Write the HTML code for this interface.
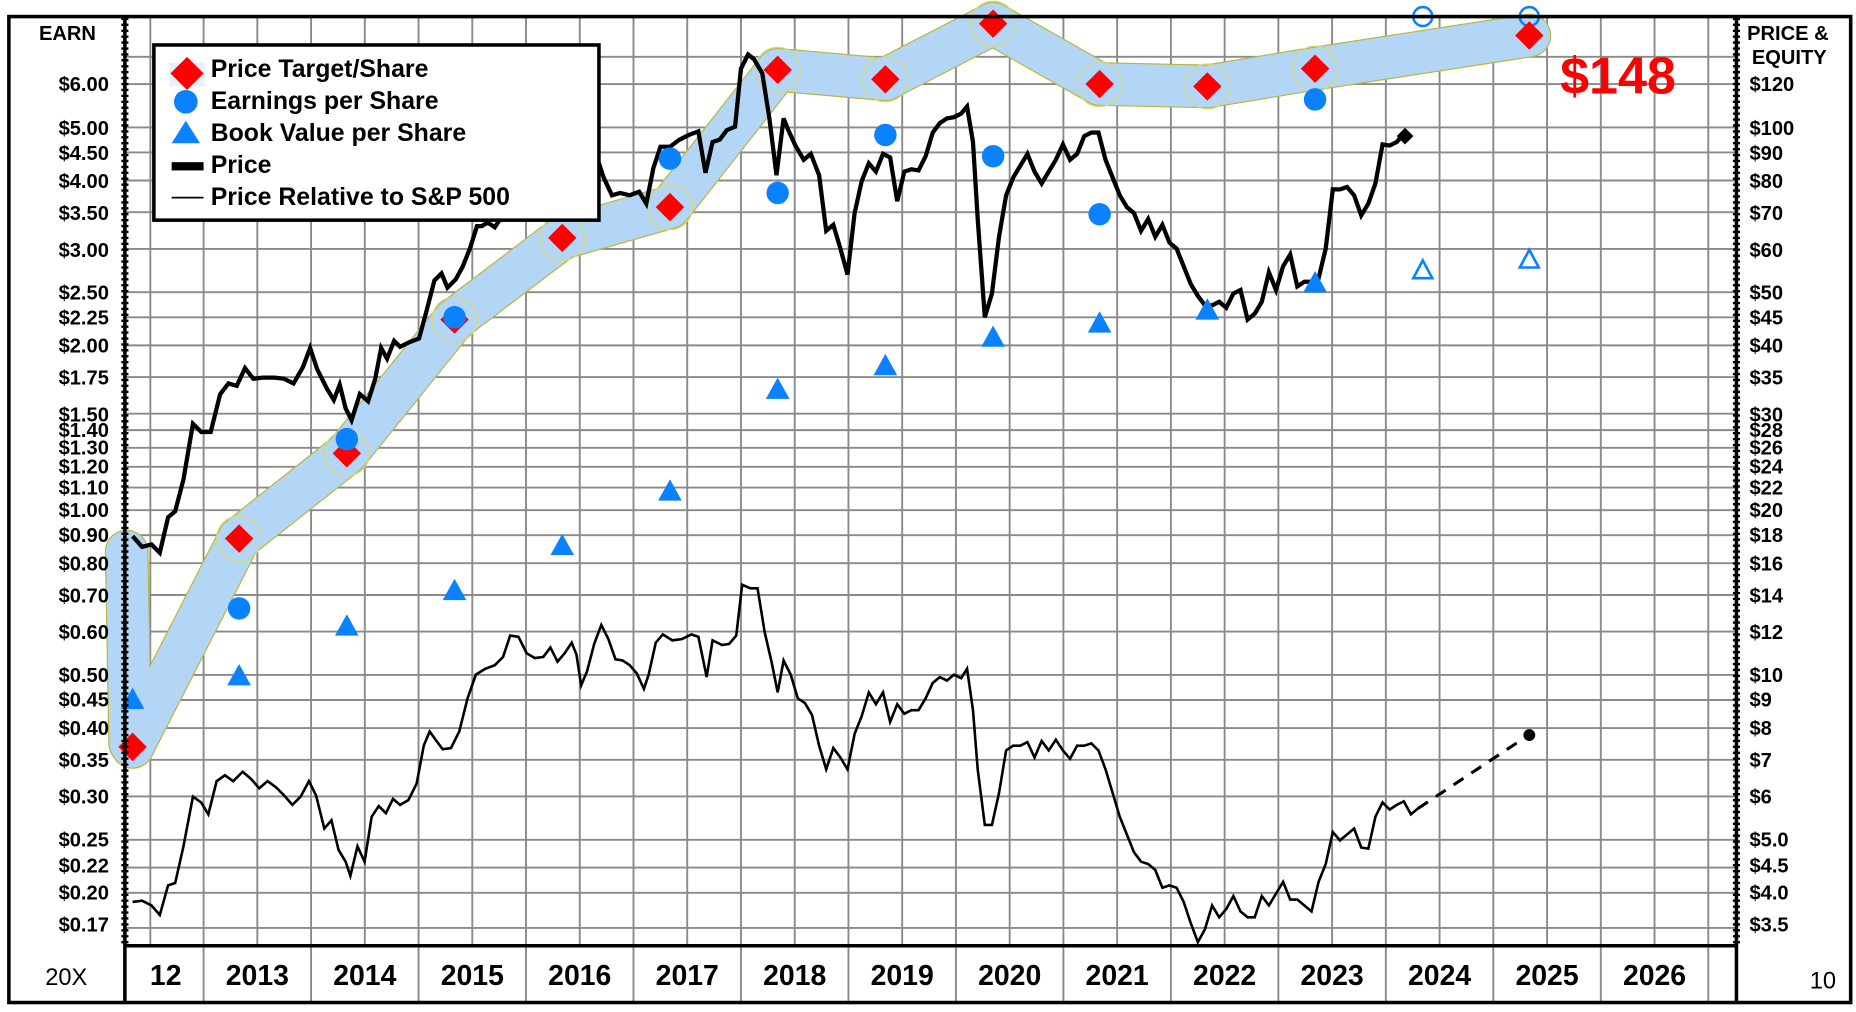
<!DOCTYPE html>
<html><head><meta charset="utf-8"><style>
html,body{margin:0;padding:0;background:#fff;}
svg{display:block;}
text{font-family:"Liberation Sans",Arial,sans-serif;}
</style></head><body>
<svg width="1856" height="1012" viewBox="0 0 1568 855" preserveAspectRatio="none" xmlns="http://www.w3.org/2000/svg">
<rect x="0" y="0" width="1568" height="855" fill="#fff"/>
<g stroke="#8a8a8a" stroke-width="1.6">
<line x1="105" x2="1467" y1="48" y2="48"/>
<line x1="105" x2="1467" y1="71" y2="71"/>
<line x1="105" x2="1467" y1="107.7" y2="107.7"/>
<line x1="105" x2="1467" y1="128.8" y2="128.8"/>
<line x1="105" x2="1467" y1="152.5" y2="152.5"/>
<line x1="105" x2="1467" y1="179.3" y2="179.3"/>
<line x1="105" x2="1467" y1="210.3" y2="210.3"/>
<line x1="105" x2="1467" y1="246.9" y2="246.9"/>
<line x1="105" x2="1467" y1="268.1" y2="268.1"/>
<line x1="105" x2="1467" y1="291.8" y2="291.8"/>
<line x1="105" x2="1467" y1="318.6" y2="318.6"/>
<line x1="105" x2="1467" y1="349.5" y2="349.5"/>
<line x1="105" x2="1467" y1="363.4" y2="363.4"/>
<line x1="105" x2="1467" y1="378.3" y2="378.3"/>
<line x1="105" x2="1467" y1="394.4" y2="394.4"/>
<line x1="105" x2="1467" y1="411.9" y2="411.9"/>
<line x1="105" x2="1467" y1="431" y2="431"/>
<line x1="105" x2="1467" y1="452.2" y2="452.2"/>
<line x1="105" x2="1467" y1="475.8" y2="475.8"/>
<line x1="105" x2="1467" y1="502.7" y2="502.7"/>
<line x1="105" x2="1467" y1="533.6" y2="533.6"/>
<line x1="105" x2="1467" y1="570.2" y2="570.2"/>
<line x1="105" x2="1467" y1="591.4" y2="591.4"/>
<line x1="105" x2="1467" y1="615.1" y2="615.1"/>
<line x1="105" x2="1467" y1="641.9" y2="641.9"/>
<line x1="105" x2="1467" y1="672.9" y2="672.9"/>
<line x1="105" x2="1467" y1="709.5" y2="709.5"/>
<line x1="105" x2="1467" y1="733" y2="733"/>
<line x1="105" x2="1467" y1="754.3" y2="754.3"/>
<line x1="105" x2="1467" y1="784" y2="784"/>
</g>
<g stroke="#8a8a8a" stroke-width="1.6">
<line x1="127" x2="127" y1="15" y2="799"/>
<line x1="217.4" x2="217.4" y1="15" y2="799"/>
<line x1="308.2" x2="308.2" y1="15" y2="799"/>
<line x1="399" x2="399" y1="15" y2="799"/>
<line x1="489.8" x2="489.8" y1="15" y2="799"/>
<line x1="580.6" x2="580.6" y1="15" y2="799"/>
<line x1="671.4" x2="671.4" y1="15" y2="799"/>
<line x1="762.2" x2="762.2" y1="15" y2="799"/>
<line x1="853" x2="853" y1="15" y2="799"/>
<line x1="943.8" x2="943.8" y1="15" y2="799"/>
<line x1="1034.6" x2="1034.6" y1="15" y2="799"/>
<line x1="1125.4" x2="1125.4" y1="15" y2="799"/>
<line x1="1216.2" x2="1216.2" y1="15" y2="799"/>
<line x1="1307" x2="1307" y1="15" y2="799"/>
<line x1="1397.8" x2="1397.8" y1="15" y2="799"/>
<line x1="172" x2="172" y1="15" y2="847"/>
<line x1="262.8" x2="262.8" y1="15" y2="847"/>
<line x1="353.6" x2="353.6" y1="15" y2="847"/>
<line x1="444.4" x2="444.4" y1="15" y2="847"/>
<line x1="535.2" x2="535.2" y1="15" y2="847"/>
<line x1="626" x2="626" y1="15" y2="847"/>
<line x1="716.8" x2="716.8" y1="15" y2="847"/>
<line x1="807.6" x2="807.6" y1="15" y2="847"/>
<line x1="898.4" x2="898.4" y1="15" y2="847"/>
<line x1="989.2" x2="989.2" y1="15" y2="847"/>
<line x1="1080" x2="1080" y1="15" y2="847"/>
<line x1="1170.8" x2="1170.8" y1="15" y2="847"/>
<line x1="1261.6" x2="1261.6" y1="15" y2="847"/>
<line x1="1352.4" x2="1352.4" y1="15" y2="847"/>
<line x1="1443.2" x2="1443.2" y1="15" y2="847"/>
</g>
<g fill="none" stroke-linecap="round" stroke-linejoin="round">
<polyline points="107,466 110,628 112,631 202,455 293,383 384,270 475,201 566,175 657,59 748,67 839,20 929,71 1020,73 1111,58 1292,30" stroke="#b8b83a" stroke-width="37"/>
<polyline points="107,466 110,628 112,631 202,455 293,383 384,270 475,201 566,175 657,59 748,67 839,20 929,71 1020,73 1111,58 1292,30" stroke="#b3d6f7" stroke-width="35"/>
</g>
<g fill="none" stroke="#d8d870" stroke-width="1">
<circle cx="202" cy="455" r="19"/><circle cx="293" cy="383" r="19"/><circle cx="384" cy="270" r="19"/><circle cx="475" cy="201" r="19"/><circle cx="566" cy="175" r="19"/><circle cx="657" cy="59" r="19"/><circle cx="748" cy="67" r="19"/><circle cx="839" cy="20" r="19"/><circle cx="929" cy="71" r="19"/><circle cx="1020" cy="73" r="19"/><circle cx="1111" cy="58" r="19"/>
</g>
<polyline fill="none" stroke="#000" stroke-width="2.2" stroke-linejoin="miter" points="112,762 120,761 128,765 135,773 142,748 148,746 155,715 163,673 170,678 176,688 183,660 190,655 197,660 205,652 212,658 219,666 226,660 233,665 240,672 247,680 254,673 261,660 267,672 274,700 280,693 286,718 292,728 296,740 302,715 308,728 314,690 320,681 326,687 332,675 338,680 345,676 352,662 358,630 363,618 368,625 374,633 381,632 388,618 395,590 402,570 410,565 418,562 425,555 431,537 438,538 445,552 452,556 459,555 465,547 471,559 477,552 483,543 487,553 491,579 496,567 502,544 508,528 514,540 520,557 526,558 532,562 538,569 544,582 548,570 554,543 560,536 568,541 576,540 584,536 590,538 597,572 602,541 610,545 616,544 622,537 627,494 634,497 640,497 646,534 652,560 657,585 662,558 668,570 674,590 680,594 686,604 692,630 698,650 704,632 710,640 716,650 722,620 728,605 734,585 740,595 746,585 752,610 758,595 764,603 770,600 776,600 782,590 788,577 794,572 800,575 806,570 812,573 817,565 822,600 826,650 832,697 838,697 844,670 850,634 856,630 862,630 868,627 874,640 880,626 886,634 892,625 898,634 904,641 910,630 916,630 922,628 928,634 934,650 940,670 946,690 952,705 958,720 964,728 970,730 976,735 982,750 988,748 994,750 1000,762 1006,780 1012,796 1018,785 1024,765 1030,775 1036,768 1042,757 1048,770 1054,775 1060,775 1066,757 1072,765 1078,755 1084,745 1090,760 1096,760 1102,765 1108,770 1114,745 1120,730 1126,703 1132,710 1138,705 1144,700 1150,716 1156,717 1162,690 1168,678 1174,684 1180,680 1186,677 1192,688 1198,683"/>
<line x1="1198" y1="683" x2="1290" y2="622" stroke="#000" stroke-width="2.6" stroke-dasharray="10,8"/>
<circle cx="1292" cy="621" r="5" fill="#000"/>
<polyline fill="none" stroke="#000" stroke-width="3.6" stroke-linejoin="miter" points="112,453 120,462 128,460 135,467 142,437 148,432 155,405 163,358 170,365 178,365 186,333 193,324 200,326 207,311 214,320 222,319 232,319 240,320 248,324 256,310 262,294 268,312 276,328 282,338 287,325 292,345 297,355 304,333 311,339 317,320 322,294 327,303 333,288 338,293 346,289 354,286 360,264 367,237 373,231 378,243 385,236 391,225 397,210 403,191 407,191 412,188 418,192 424,183 432,158 440,150 446,155 452,150 458,144 462,138 467,120 480,110 495,115 505,135 510,150 517,165 524,163 532,165 540,162 546,172 552,142 558,124 566,124 574,118 582,114 590,111 596,146 602,120 608,118 614,110 621,107 626,58 632,46 637,50 644,62 650,100 656,148 662,100 666,110 672,123 679,135 685,130 692,148 698,195 704,190 710,210 716,232 722,180 728,153 734,138 740,145 746,130 752,133 758,170 764,145 770,143 776,144 782,132 788,112 794,104 800,100 806,99 812,96 817,90 822,120 826,185 832,268 838,248 844,200 850,165 856,150 862,140 868,130 874,145 880,155 886,145 892,135 898,122 904,135 910,130 916,115 922,112 928,112 934,135 940,150 946,165 952,175 958,180 964,195 970,185 976,200 982,190 988,205 994,210 1000,225 1006,240 1012,250 1018,258 1024,258 1030,255 1036,260 1042,248 1048,245 1054,270 1060,265 1066,255 1072,230 1078,245 1084,225 1090,215 1096,242 1102,238 1108,238 1114,235 1120,210 1126,160 1132,160 1138,158 1144,165 1150,182 1156,172 1162,155 1168,122 1174,123 1180,120 1186,113"/>
<rect x="1182" y="110" width="10" height="10" fill="#000" transform="rotate(45 1187 115)"/>
<g fill="#0a82ff">
<path d="M112,581 l-10,18 h20z"/><path d="M202,561 l-10,18 h20z"/><path d="M293,519 l-10,18 h20z"/><path d="M384,489 l-10,18 h20z"/><path d="M475,451 l-10,18 h20z"/><path d="M566,405 l-10,18 h20z"/><path d="M657,319 l-10,18 h20z"/><path d="M748,299 l-10,18 h20z"/><path d="M839,275 l-10,18 h20z"/><path d="M929,263 l-10,18 h20z"/><path d="M1020,252 l-10,18 h20z"/><path d="M1111,229 l-10,18 h20z"/>
</g>
<g fill="none" stroke="#0a82ff" stroke-width="2.2">
<path d="M1202,220 l-8,15 h16z"/><path d="M1292,211 l-8,15 h16z"/>
<circle cx="1202" cy="14" r="8"/><circle cx="1292" cy="14" r="8"/>
</g>
<g fill="#ff0000">
<path d="M112,619 l12,12 -12,12 -12,-12z"/><path d="M202,443 l12,12 -12,12 -12,-12z"/><path d="M293,371 l12,12 -12,12 -12,-12z"/><path d="M384,258 l12,12 -12,12 -12,-12z"/><path d="M475,189 l12,12 -12,12 -12,-12z"/><path d="M566,163 l12,12 -12,12 -12,-12z"/><path d="M657,47 l12,12 -12,12 -12,-12z"/><path d="M748,55 l12,12 -12,12 -12,-12z"/><path d="M839,8 l12,12 -12,12 -12,-12z"/><path d="M929,59 l12,12 -12,12 -12,-12z"/><path d="M1020,61 l12,12 -12,12 -12,-12z"/><path d="M1111,46 l12,12 -12,12 -12,-12z"/><path d="M1292,18 l12,12 -12,12 -12,-12z"/>
</g>
<g fill="#0a82ff">
<circle cx="202" cy="514" r="9.5"/><circle cx="293" cy="371" r="9.5"/><circle cx="384" cy="268" r="9.5"/><circle cx="566" cy="134" r="9.5"/><circle cx="657" cy="163" r="9.5"/><circle cx="748" cy="114" r="9.5"/><circle cx="839" cy="132" r="9.5"/><circle cx="929" cy="181" r="9.5"/><circle cx="1111" cy="84" r="9.5"/>
</g>
<text x="1318" y="79" font-size="44" font-weight="bold" fill="#ff0000">$148</text>
<rect x="130" y="38" width="376" height="148" fill="#fff" stroke="#000" stroke-width="3"/>
<rect x="143" y="53" width="30" height="20" fill="#e6f1fb"/>
<path d="M158,48 l14,14 -14,14 -14,-14z" fill="#ff0000"/>
<circle cx="157" cy="86" r="10" fill="#0a82ff"/>
<path d="M157,102 l-12,19 h24z" fill="#0a82ff"/>
<rect x="145" y="137" width="27" height="7" fill="#000"/>
<line x1="145" y1="167" x2="172" y2="167" stroke="#000" stroke-width="1.5"/>
<g font-size="21" font-weight="bold" fill="#000">
<text x="178" y="65">Price Target/Share</text>
<text x="178" y="92">Earnings per Share</text>
<text x="178" y="119">Book Value per Share</text>
<text x="178" y="146">Price</text>
<text x="178" y="173">Price Relative to S&amp;P 500</text>
</g>
<line x1="105" y1="799" x2="1467" y2="799" stroke="#000" stroke-width="3"/>
<line x1="105.5" y1="13" x2="105.5" y2="848" stroke="#000" stroke-width="3"/>
<line x1="1467" y1="13" x2="1467" y2="848" stroke="#000" stroke-width="3"/>
<line x1="105.5" y1="15" x2="105.5" y2="797" stroke="#000" stroke-width="6" stroke-dasharray="2,3"/>
<line x1="1467" y1="15" x2="1467" y2="797" stroke="#000" stroke-width="6" stroke-dasharray="2,3"/>
<rect x="7.5" y="14" width="1556" height="833" fill="none" stroke="#000" stroke-width="3"/>
<g font-size="17" font-weight="bold" text-anchor="end" fill="#000">
<text x="57" y="34" text-anchor="middle">EARN</text>
<text x="92" y="77">$6.00</text><text x="92" y="114">$5.00</text><text x="92" y="135">$4.50</text><text x="92" y="159">$4.00</text><text x="92" y="186">$3.50</text><text x="92" y="217">$3.00</text><text x="92" y="253">$2.50</text><text x="92" y="274">$2.25</text><text x="92" y="298">$2.00</text><text x="92" y="325">$1.75</text><text x="92" y="356">$1.50</text><text x="92" y="369">$1.40</text><text x="92" y="384">$1.30</text><text x="92" y="400">$1.20</text><text x="92" y="418">$1.10</text><text x="92" y="437">$1.00</text><text x="92" y="458">$0.90</text><text x="92" y="482">$0.80</text><text x="92" y="509">$0.70</text><text x="92" y="540">$0.60</text><text x="92" y="576">$0.50</text><text x="92" y="597">$0.45</text><text x="92" y="621">$0.40</text><text x="92" y="648">$0.35</text><text x="92" y="679">$0.30</text><text x="92" y="715">$0.25</text><text x="92" y="737">$0.22</text><text x="92" y="760">$0.20</text><text x="92" y="787">$0.17</text>
</g>
<g font-size="17" font-weight="bold" fill="#000">
<text x="1476" y="34">PRICE &amp;</text><text x="1480" y="54">EQUITY</text>
<text x="1478" y="77">$120</text><text x="1478" y="114">$100</text><text x="1478" y="135">$90</text><text x="1478" y="159">$80</text><text x="1478" y="186">$70</text><text x="1478" y="217">$60</text><text x="1478" y="253">$50</text><text x="1478" y="274">$45</text><text x="1478" y="298">$40</text><text x="1478" y="325">$35</text><text x="1478" y="356">$30</text><text x="1478" y="369">$28</text><text x="1478" y="384">$26</text><text x="1478" y="400">$24</text><text x="1478" y="418">$22</text><text x="1478" y="437">$20</text><text x="1478" y="458">$18</text><text x="1478" y="482">$16</text><text x="1478" y="509">$14</text><text x="1478" y="540">$12</text><text x="1478" y="576">$10</text><text x="1478" y="597">$9</text><text x="1478" y="621">$8</text><text x="1478" y="648">$7</text><text x="1478" y="679">$6</text><text x="1478" y="715">$5.0</text><text x="1478" y="737">$4.5</text><text x="1478" y="760">$4.0</text><text x="1478" y="787">$3.5</text>
</g>
<g font-size="24" font-weight="bold" text-anchor="middle" fill="#000">
<text x="140" y="832">12</text>
<text x="217.4" y="832">2013</text><text x="308.2" y="832">2014</text><text x="399" y="832">2015</text><text x="489.8" y="832">2016</text><text x="580.6" y="832">2017</text><text x="671.4" y="832">2018</text><text x="762.2" y="832">2019</text><text x="853" y="832">2020</text><text x="943.8" y="832">2021</text><text x="1034.6" y="832">2022</text><text x="1125.4" y="832">2023</text><text x="1216.2" y="832">2024</text><text x="1307" y="832">2025</text><text x="1397.8" y="832">2026</text>
</g>
<text x="56" y="832" font-size="20" text-anchor="middle" fill="#000">20X</text>
<text x="1540" y="835" font-size="20" text-anchor="middle" fill="#000">10</text>
</svg>
</body></html>
